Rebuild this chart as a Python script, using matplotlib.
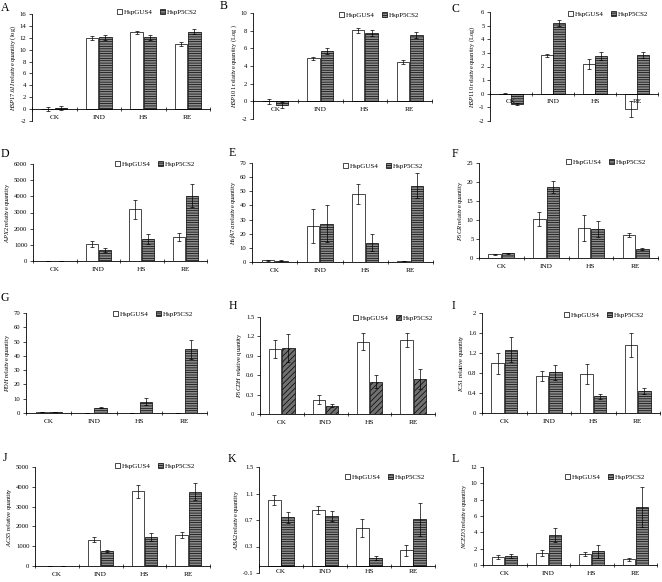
import matplotlib
matplotlib.use('Agg')
import matplotlib.pyplot as plt
from matplotlib.patches import Patch
import numpy as np

plt.rcParams['font.family'] = 'Liberation Serif'
plt.rcParams['mathtext.fontset'] = 'custom'
plt.rcParams['mathtext.it'] = 'Liberation Serif:italic'
plt.rcParams['mathtext.rm'] = 'Liberation Serif'
plt.rcParams['hatch.linewidth'] = 0.5

categories = ['CK', 'IND', 'HS', 'RE']
series = ['HspGUS4', 'HspP5CS2']

# values: mean / error for each line
a_gus, a_gus_err = [0.05, 12.0, 12.9, 11.0], [0.3, 0.3, 0.3, 0.3]
a_p5, a_p5_err = [0.2, 12.1, 12.1, 13.0], [0.3, 0.4, 0.4, 0.4]
b_gus, b_gus_err = [0.0, 4.85, 8.05, 4.45], [0.3, 0.2, 0.3, 0.25]
b_p5, b_p5_err = [-0.4, 5.7, 7.7, 7.5], [0.3, 0.3, 0.35, 0.3]
c_gus, c_gus_err = [0.0, 2.83, 2.2, -1.1], [0.05, 0.12, 0.35, 0.6]
c_p5, c_p5_err = [-0.75, 5.2, 2.8, 2.85], [0.1, 0.2, 0.3, 0.2]
d_gus, d_gus_err = [0, 1050, 3200, 1480], [0, 200, 600, 250]
d_p5, d_p5_err = [0, 700, 1350, 4050], [0, 120, 300, 700]
e_gus, e_gus_err = [1.2, 25.7, 48.3, 0.7], [0.5, 12, 7, 0]
e_p5, e_p5_err = [0.8, 27.0, 13.5, 54.0], [0.3, 13, 6, 9]
f_gus, f_gus_err = [1.0, 10.2, 7.9, 6.0], [0.1, 1.8, 3.3, 0.5]
f_p5, f_p5_err = [1.2, 18.6, 7.6, 2.3], [0.1, 1.6, 2.1, 0.3]
g_gus, g_gus_err = [0.8, 0.1, 0.1, 0.3], [0.2, 0, 0, 0]
g_p5, g_p5_err = [0.8, 3.8, 7.8, 44.5], [0.2, 0.5, 2.5, 6.5]
h_gus, h_gus_err = [1.0, 0.22, 1.12, 1.14], [0.14, 0.07, 0.13, 0.11]
h_p5, h_p5_err = [1.02, 0.13, 0.5, 0.54], [0.22, 0.02, 0.1, 0.15]
i_gus, i_gus_err = [1.0, 0.75, 0.78, 1.37], [0.21, 0.1, 0.2, 0.24]
i_p5, i_p5_err = [1.27, 0.82, 0.34, 0.44], [0.25, 0.15, 0.05, 0.06]
j_gus, j_gus_err = [0, 1320, 3770, 1560], [0, 130, 330, 160]
j_p5, j_p5_err = [0, 760, 1470, 3740], [0, 60, 220, 430]
k_gus, k_gus_err = [1.0, 0.85, 0.58, 0.24], [0.07, 0.06, 0.13, 0.09]
k_p5, k_p5_err = [0.74, 0.76, 0.13, 0.71], [0.08, 0.08, 0.03, 0.25]
l_gus, l_gus_err = [1.0, 1.45, 1.35, 0.7], [0.25, 0.35, 0.3, 0.15]
l_p5, l_p5_err = [1.15, 3.65, 1.7, 7.1], [0.25, 0.85, 0.8, 2.5]

W, H = 662, 582
fig = plt.figure(figsize=(W / 100, H / 100), dpi=100)

# letter, gene, suffix, data, ylim, ticks, axes box (l, t, r, b px), legend anchor px, letter px, hatch
panels = [
    ('A', 'HSP17.6II', ' relative quantity (log)', (a_gus, a_gus_err, a_p5, a_p5_err), (-2, 16), np.arange(-2, 17, 2), (32, 14, 210, 121), (197, 12), (5, 8), '-------'),
    ('B', 'HSP101', ' relative quantity (Log )', (b_gus, b_gus_err, b_p5, b_p5_err), (-2, 10), np.arange(-2, 11, 2), (253, 13, 432, 119), (419, 15), (224, 6), '-------'),
    ('C', 'HSP110', ' relative quantity (Log)', (c_gus, c_gus_err, c_p5, c_p5_err), (-2, 6), np.arange(-2, 7, 1), (490, 12, 658, 121), (648, 14), (455, 9), '-------'),
    ('D', 'APX2', ' relative quantity', (d_gus, d_gus_err, d_p5, d_p5_err), (0, 6000), np.arange(0, 6001, 1000), (33, 164, 207, 261), (195, 164), (5, 154), '-------'),
    ('E', 'HsfA7a', ' relative quantity', (e_gus, e_gus_err, e_p5, e_p5_err), (0, 70), np.arange(0, 71, 10), (252, 163, 433, 262), (423, 166), (232, 153), '-------'),
    ('F', 'P5CR', ' relative quantity', (f_gus, f_gus_err, f_p5, f_p5_err), (0, 25), np.arange(0, 26, 5), (479, 163, 658, 258), (646, 162), (455, 154), '-------'),
    ('G', 'PDH', ' relative quantity', (g_gus, g_gus_err, g_p5, g_p5_err), (0, 70), np.arange(0, 71, 10), (26, 313, 207, 413), (193, 314), (5, 298), '-------'),
    ('H', 'P5CDH', ' relative quantity', (h_gus, h_gus_err, h_p5, h_p5_err), (0, 1.5), np.round(np.arange(0, 1.51, 0.3), 2), (260, 317, 435, 414), (433, 318), (233, 306), '//////'),
    ('I', 'ICS1', ' relative quantity', (i_gus, i_gus_err, i_p5, i_p5_err), (0, 2), np.round(np.arange(0, 2.01, 0.4), 2), (482, 313, 660, 413), (644, 315), (453, 306), '-------'),
    ('J', 'ACS5', ' relative quantity', (j_gus, j_gus_err, j_p5, j_p5_err), (0, 5000), np.arange(0, 5001, 1000), (35, 467, 210, 566), (195, 466), (5, 458), '-------'),
    ('K', 'ABA2', ' relative quantity', (k_gus, k_gus_err, k_p5, k_p5_err), (-0.1, 1.5), np.round(np.arange(-0.1, 1.51, 0.4), 2), (259, 467, 435, 573), (425, 477), (232, 459), '-------'),
    ('L', 'NCED3', ' relative quantity', (l_gus, l_gus_err, l_p5, l_p5_err), (0, 12), np.arange(0, 13, 2), (483, 467, 657, 565), (645, 477), (455, 459), '-------'),
]

x = np.arange(len(categories))
w = 0.28
for letter, gene, suffix, (g, ge, p, pe), ylim, yticks, box, leg, lpos, hatch in panels:
    l, t, r, b = box
    ax = fig.add_axes([l / W, 1 - b / H, (r - l) / W, (b - t) / H])
    # spine position first, it resets the tick settings
    if ylim[0] < 0:
        ax.spines['bottom'].set_position(('data', 0))
    p5_face = '#8c8c8c' if hatch != '//////' else '#707070'
    ax.bar(x - w / 2 - 0.01, g, w, color='white', edgecolor='black', lw=0.5)
    ax.bar(x + w / 2 + 0.01, p, w, color=p5_face, edgecolor='black', lw=0.5, hatch=hatch)
    ax.errorbar(x - w / 2 - 0.01, g, yerr=ge, fmt='none', ecolor='black', elinewidth=0.5, capsize=1.2, capthick=0.5)
    ax.errorbar(x + w / 2 + 0.01, p, yerr=pe, fmt='none', ecolor='black', elinewidth=0.5, capsize=1.2, capthick=0.5)

    ax.set_xlim(-0.5, 3.5)
    ax.set_ylim(*ylim)
    ax.set_yticks(yticks)
    ax.set_yticklabels(['%g' % v for v in yticks])
    ax.set_xticks(x)
    ax.set_xticklabels(categories, fontsize=5.2)
    ax.set_xticks(np.arange(-0.5, 4, 1), minor=True)
    ax.tick_params(axis='x', which='major', length=0, pad=4 if letter != 'K' else 2)
    ax.tick_params(axis='x', which='minor', length=2.5, width=0.5, direction='inout')
    ax.tick_params(axis='y', length=2, width=0.5, labelsize=4.8, pad=2)
    for s in ['top', 'right']:
        ax.spines[s].set_visible(False)
    for s in ['left', 'bottom']:
        ax.spines[s].set_linewidth(0.6)
    ax.set_ylabel(r'$\mathit{' + gene + '}$' + suffix, fontsize=4.6, labelpad=1.5)

    handles = [Patch(facecolor='white', edgecolor='black', lw=0.5),
               Patch(facecolor=p5_face, edgecolor='black', lw=0.5, hatch=hatch)]
    ax.legend(handles, series, loc='center right', bbox_to_anchor=(leg[0] / W, 1 - leg[1] / H),
              bbox_transform=fig.transFigure, ncol=2, frameon=False, fontsize=5,
              handlelength=0.8, handleheight=0.8, handletextpad=0.2, columnspacing=1.0,
              borderaxespad=0, borderpad=0)
    fig.text(lpos[0] / W, 1 - lpos[1] / H, letter, fontsize=8.5, ha='center', va='center')

fig.savefig('out.png', dpi=100)
